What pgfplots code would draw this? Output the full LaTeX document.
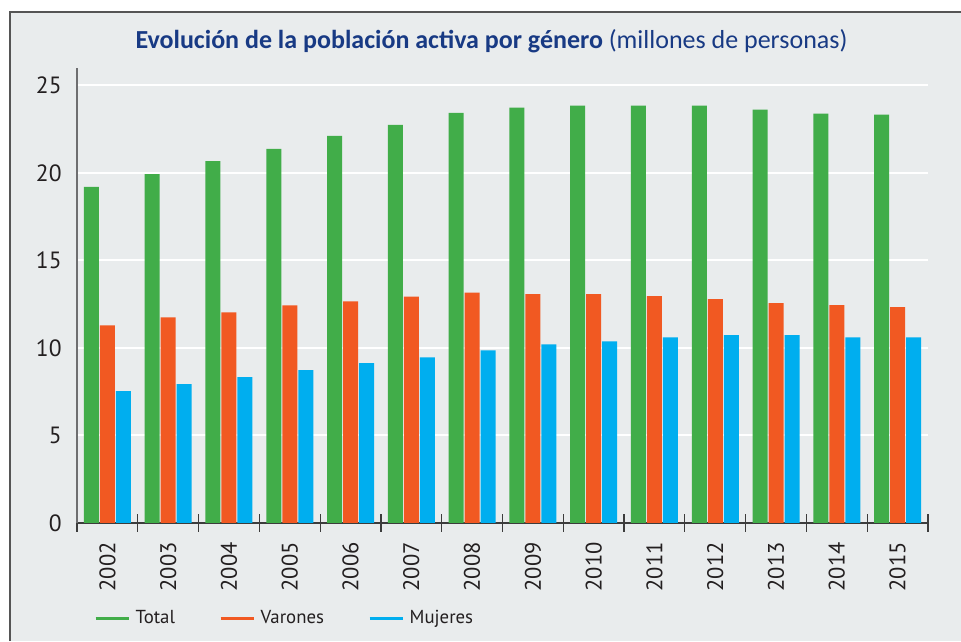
\documentclass[border=0pt]{standalone}
\usepackage{fontspec}
\setmainfont{PT Sans}
\newfontfamily\titlefont{Carlito}
\usepackage{pgfplots}
\pgfplotsset{compat=1.18}
\definecolor{cgreen}{RGB}{65,173,73}
\definecolor{corange}{RGB}{241,89,34}
\definecolor{cblue}{RGB}{0,174,239}
\definecolor{bgc}{RGB}{233,236,237}
\definecolor{framec}{RGB}{85,85,85}
\definecolor{titleblue}{RGB}{24,58,132}
\definecolor{tickc}{RGB}{35,31,32}
\definecolor{yaxisc}{RGB}{110,110,112}
\definecolor{xaxisc}{RGB}{60,60,60}
\begin{document}
\begin{tikzpicture}
\useasboundingbox (0,0) rectangle (480.5pt,320.5pt);
\fill[white] (0,0) rectangle (480.5pt,320.5pt);
\fill[bgc] (5pt,0) rectangle (480.5pt,314.5pt);
\draw[framec, line width=1pt] (5pt,0) -- (5pt,314.5pt) -- (480.5pt,314.5pt);
\node[anchor=base, text=titleblue, inner sep=0pt, font=\titlefont\fontsize{13}{15}\selectfont] at (245.75pt,296.35pt) {\textbf{Evolución de la población activa por género} (millones de personas)};
\begin{axis}[
  at={(38.5pt,59pt)}, anchor=south west,
  scale only axis, width=425.5pt, height=227.5pt,
  xmin=-0.5, xmax=13.5, ymin=0, ymax=26,
  axis x line=bottom, axis y line=left,
  x axis line style={-, draw=xaxisc, line width=0.7pt},
  y axis line style={-, draw=yaxisc, line width=1pt},
  ytick={0,5,...,25},
  xtick={0,...,13},
  xticklabels={2002,2003,2004,2005,2006,2007,2008,2009,2010,2011,2012,2013,2014,2015},
  minor xtick={-0.5,0.5,...,13.5},
  major tick length=0pt,
  minor tick length=9pt,
  tick align=center,
  minor tick style={draw=xaxisc, line width=0.6pt},
  ymajorgrids,
  grid style={white, line width=1pt},
  /pgf/number format/assume math mode=true,
  tick label style={font=\fontsize{11.25}{13}\selectfont, text=tickc},
  xticklabel style={rotate=90, anchor=east, inner sep=0pt},
  yticklabel style={anchor=east, inner sep=0pt, font=\fontsize{11.75}{13}\selectfont},
  xticklabel shift=9.5pt,
  yticklabel shift=7.5pt,
  legend image code/.code={\draw[#1] (0pt,0pt) -- (16.5pt,0pt);},
  legend style={at={(0.020,-0.2088)}, anchor=west, draw=none, fill=none,
    inner sep=0pt, outer sep=0pt, font=\fontsize{9.4}{11}\selectfont,
    text=tickc,
    /tikz/every odd column/.append style={column sep=2.85pt},
    /tikz/every even column/.append style={column sep=22pt},
    nodes={inner sep=0pt}},
  legend columns=3,
]
\addlegendimage{cgreen, line width=1.5pt}
\addlegendimage{corange, line width=1.5pt}
\addlegendimage{cblue, line width=1.5pt}
\addplot[ybar, bar width=7.5pt, bar shift=-8pt, fill=cgreen, draw=none, forget plot] coordinates {
(0,19.20) (1,19.94) (2,20.68) (3,21.38) (4,22.12) (5,22.75) (6,23.43)
(7,23.74) (8,23.85) (9,23.85) (10,23.85) (11,23.62) (12,23.39) (13,23.34)};
\addplot[ybar, bar width=7.5pt, bar shift=0pt, fill=corange, draw=none, forget plot] coordinates {
(0,11.29) (1,11.75) (2,12.03) (3,12.43) (4,12.66) (5,12.94) (6,13.17)
(7,13.08) (8,13.08) (9,12.96) (10,12.79) (11,12.56) (12,12.45) (13,12.33)};
\addplot[ybar, bar width=7.5pt, bar shift=8pt, fill=cblue, draw=none, forget plot] coordinates {
(0,7.54) (1,7.93) (2,8.33) (3,8.73) (4,9.13) (5,9.47) (6,9.87)
(7,10.21) (8,10.38) (9,10.61) (10,10.73) (11,10.73) (12,10.61) (13,10.61)};
\legend{Total,Varones,Mujeres}
\end{axis}
\end{tikzpicture}
\end{document}
